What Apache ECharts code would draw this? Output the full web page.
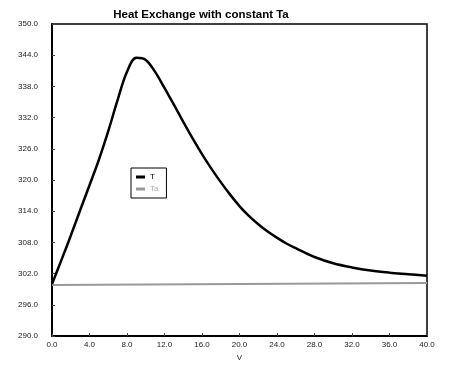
<!DOCTYPE html>
<html>
<head>
<meta charset="utf-8">
<script src="https://cdn.jsdelivr.net/npm/echarts@6/dist/echarts.min.js"></script>
<style>html,body{margin:0;padding:0;background:#fff;}#c{width:460px;height:367px;}</style>
</head>
<body>
<div id="c"></div>
<script>
const vValues = [0,1,2,3,4,5,6,7,8,9,10,11,12,13,14,15,16,17,18,19,20,21,22,23,24,25,26,28,30,32,34,36,38,40];
const tValues = [300.0,304.6,309.3,314.2,319.0,323.9,329.4,335.4,340.8,343.5,343.1,340.8,337.7,334.5,331.2,328.0,325.0,322.2,319.6,317.2,315.0,313.1,311.5,310.1,308.9,307.8,306.9,305.2,304.0,303.2,302.6,302.2,301.9,301.6];
const taV = [0,40];
const taValues = [299.8,300.2];
const yTicks = [290,296,302,308,314,320,326,332,338,344,350];
const xTicks = [0,4,8,12,16,20,24,28,32,36,40];

const chart = echarts.init(document.getElementById('c'), null, {renderer:'canvas'});
chart.setOption({
  animation:false,
  backgroundColor:'#fff',
  title:{text:'Heat Exchange with constant Ta', left:196, top:4, textAlign:'center',
    textStyle:{fontFamily:'Liberation Sans, Arial, sans-serif', fontSize:11.5, fontWeight:'bold', color:'#000'}},
  legend:{orient:'vertical', left:131, top:168, padding:[5,8,5,5], itemGap:4,
    borderColor:'#000', borderWidth:1, backgroundColor:'#fff',
    itemWidth:9, itemHeight:3,
    textStyle:{fontFamily:'Liberation Sans, Arial, sans-serif', fontSize:8},
    data:[{name:'T', icon:'rect', textStyle:{color:'#000'}},
          {name:'Ta', icon:'rect', textStyle:{color:'#aaa'}}]},
  grid:{left:52, right:33, top:24, bottom:26, show:true, borderColor:'#000', borderWidth:1.5},
  xAxis:{type:'value', min:0, max:40, interval:4, name:'V', nameLocation:'middle', nameGap:14,
    nameTextStyle:{fontFamily:'Liberation Sans, Arial, sans-serif', fontSize:8, color:'#222'},
    axisLine:{lineStyle:{color:'#000', width:2}},
    axisTick:{show:true, length:3, inside:true, lineStyle:{color:'#444'}},
    splitLine:{show:false},
    axisLabel:{margin:5, color:'#222', fontFamily:'Liberation Sans, Arial, sans-serif', fontSize:8,
      customValues:xTicks, formatter:v=>v.toFixed(1)}},
  yAxis:{type:'value', min:290, max:350,
    axisLine:{show:true, lineStyle:{color:'#000', width:2}},
    axisTick:{show:true, length:3, inside:true, lineStyle:{color:'#444'}, customValues:yTicks},
    splitLine:{show:false},
    axisLabel:{margin:14, color:'#222', fontFamily:'Liberation Sans, Arial, sans-serif', fontSize:8,
      customValues:yTicks, formatter:v=>v.toFixed(1)}},
  series:[
    {name:'T', type:'line', smooth:0.35, showSymbol:false, z:3,
      lineStyle:{color:'#000', width:2.5}, itemStyle:{color:'#000'},
      data:vValues.map((v,i)=>[v,tValues[i]])},
    {name:'Ta', type:'line', showSymbol:false, z:2,
      lineStyle:{color:'#999', width:2}, itemStyle:{color:'#999'},
      data:taV.map((v,i)=>[v,taValues[i]])}
  ]
});
</script>
</body>
</html>
